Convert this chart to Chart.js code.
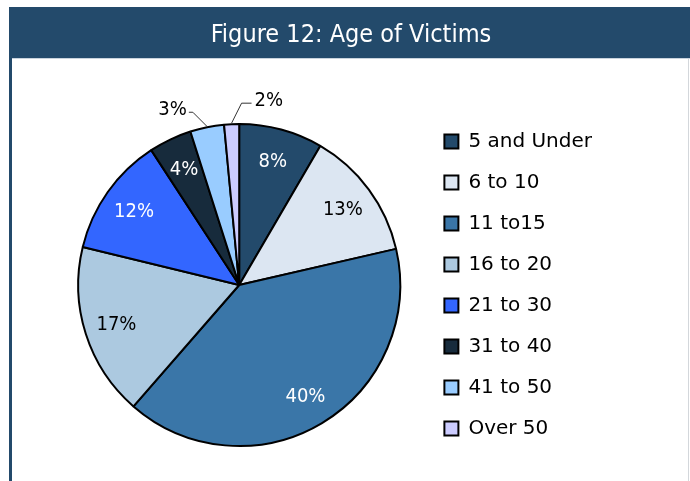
<!DOCTYPE html>
<html><head><meta charset="utf-8">
<script src="https://cdn.jsdelivr.net/npm/chart.js@4.4.1/dist/chart.umd.min.js"></script>
<style>html,body{margin:0;padding:0;background:#fff;overflow:hidden}</style>
</head><body>
<canvas id="c" width="690" height="481"></canvas>
<script>
const titleText = 'Figure 12: Age of Victims';
const categories = ['5 and Under', '6 to 10', '11 to15', '16 to 20', '21 to 30', '31 to 40', '41 to 50', 'Over 50'];
const shares = [8.4, 13.0, 40.0, 17.4, 12.0, 4.3, 3.4, 1.5];
const sliceColors = ['#234a6b', '#dce6f2', '#3a76a8', '#acc9e0', '#3366ff', '#172b3c', '#99ccff', '#ccccff'];
const labelColors = ['#ffffff', '#000000', '#ffffff', '#000000', '#ffffff', '#ffffff', '#000000', '#000000'];

const framePlugin = {
  id: 'frame',
  beforeDraw(chart, args, opts) {
    const ctx = chart.ctx;
    ctx.save();
    ctx.fillStyle = '#ffffff';
    ctx.fillRect(0, 0, chart.width, chart.height);
    ctx.fillStyle = '#234a6b';
    ctx.fillRect(9, 7, chart.width - 9, 51);
    ctx.fillRect(9, 58, 3, chart.height - 58);
    ctx.fillStyle = '#c9d3dd';
    ctx.fillRect(12, 58, chart.width - 12, 1);
    ctx.fillStyle = '#d3d7db';
    ctx.fillRect(688, 59, 1, chart.height - 59);
    ctx.fillStyle = '#ffffff';
    ctx.font = '25px "DejaVu Sans Condensed", "Liberation Sans Narrow", sans-serif';
    ctx.textAlign = 'center';
    ctx.textBaseline = 'alphabetic';
    ctx.fillText(opts.text, 351, 42);
    ctx.restore();
  }
};

const sliceLabelPlugin = {
  id: 'sliceLabels',
  afterDatasetsDraw(chart, args, opts) {
    const ctx = chart.ctx;
    const meta = chart.getDatasetMeta(0);
    const data = chart.data.datasets[0].data;
    ctx.save();
    ctx.font = opts.font;
    meta.data.forEach((arc, i) => {
      const p = arc.getProps(['x', 'y', 'startAngle', 'endAngle', 'outerRadius'], true);
      const mid = (p.startAngle + p.endAngle) / 2;
      const txt = Math.round(data[i]) + '%';
      const out = opts.outside[i];
      if (!out) {
        const r = p.outerRadius * opts.inset;
        ctx.fillStyle = opts.colors[i];
        ctx.textAlign = 'center';
        ctx.textBaseline = 'middle';
        ctx.fillText(txt, p.x + Math.cos(mid) * r, p.y + Math.sin(mid) * r + 1);
      } else {
        const r = p.outerRadius + 1;
        const ex = p.x + Math.cos(mid) * r, ey = p.y + Math.sin(mid) * r;
        const bx = ex + out.dx, by = ey + out.dy;
        const hx = bx + out.len;
        ctx.strokeStyle = '#333333';
        ctx.lineWidth = 1;
        ctx.beginPath();
        ctx.moveTo(ex, ey); ctx.lineTo(bx, by); ctx.lineTo(hx, by);
        ctx.stroke();
        ctx.fillStyle = '#000000';
        ctx.textBaseline = 'middle';
        ctx.textAlign = out.len < 0 ? 'right' : 'left';
        ctx.fillText(txt, hx + (out.len < 0 ? -2 : 3), by - 2);
      }
    });
    ctx.restore();
  }
};

new Chart(document.getElementById('c'), {
  type: 'pie',
  data: {
    labels: categories,
    datasets: [{
      data: shares,
      backgroundColor: sliceColors,
      borderColor: '#000000',
      borderWidth: 2,
      radius: 161
    }]
  },
  options: {
    responsive: false,
    animation: false,
    events: [],
    layout: { padding: { top: 100, bottom: 11, left: 55, right: 88 } },
    plugins: {
      tooltip: { enabled: false },
      title: { display: false },
      frame: { text: titleText },
      sliceLabels: {
        font: '20px "DejaVu Sans Condensed", "Liberation Sans Narrow", sans-serif',
        inset: 0.8,
        colors: labelColors,
        outside: { 6: { dx: -14, dy: -14, len: -4 }, 7: { dx: 10, dy: -20, len: 10 } }
      },
      legend: {
        position: 'right',
        align: 'center',
        labels: {
          boxWidth: 14,
          boxHeight: 14,
          padding: 21,
          color: '#000000',
          font: { family: '"DejaVu Sans", sans-serif', size: 20 }
        }
      }
    }
  },
  plugins: [framePlugin, sliceLabelPlugin]
});
</script>
</body></html>
